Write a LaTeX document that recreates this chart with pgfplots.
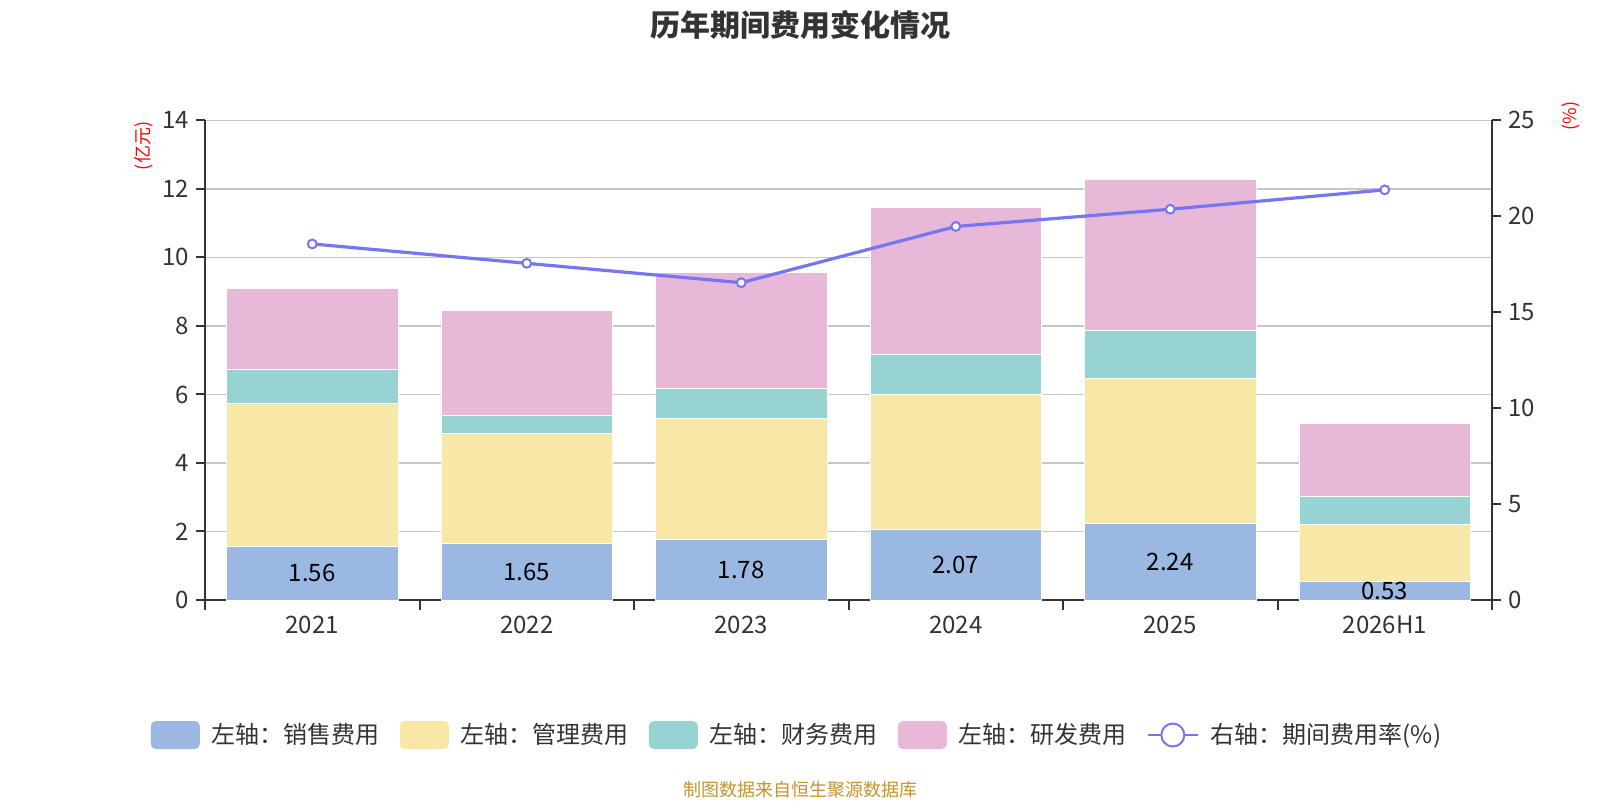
\documentclass[border=0pt]{standalone}
\usepackage{fontspec}
\setmainfont{Noto Sans CJK SC}
\usepackage{pgfplots}
\pgfplotsset{compat=1.18}
\definecolor{sales}{HTML}{9BB8E2}
\definecolor{mgmt}{HTML}{F8E8A8}
\definecolor{fin}{HTML}{98D3D3}
\definecolor{rd}{HTML}{E8B8D8}
\definecolor{linec}{HTML}{7676F4}
\definecolor{txt}{HTML}{333333}
\definecolor{src}{HTML}{C8922B}
\definecolor{gridc}{HTML}{C6C6C6}
\pgfplotsset{
  boxlegend/.style={legend image code/.code={\fill[##1, rounded corners=2.5pt] (0pt,-7pt) rectangle (24.5pt,7pt);}},
  linelegend/.style={legend image code/.code={\draw[##1, line width=1pt, mark size=5.75pt, mark options={fill=white, draw=linec, line width=1pt}, mark repeat=2, mark phase=2] plot coordinates {(0pt,0pt) (12.5pt,0pt) (25pt,0pt)};}},
  common/.style={
    at={(102.5pt,100pt)}, anchor=south west, scale only axis,
    width=643.5pt, height=239.8pt,
    xmin=-0.5, xmax=5.5,
    tick label style={font=\fontsize{12}{14}\selectfont, text=txt},
    /pgf/number format/assume math mode=true,
    axis line style={draw=txt, line width=1pt, -},
    tick style={draw=txt, line width=1pt},
    tick align=outside,
    major tick length=4.5pt,
  }
}
\begin{document}
\begin{tikzpicture}[x=1pt,y=1pt]
\path[use as bounding box] (0,0) rectangle (800,400);
\node[font=\fontsize{15}{18}\selectfont\bfseries, text=txt] at (400,387.5) {历年期间费用变化情况};
\node[font=\fontsize{9}{11}\selectfont, text=src] at (400,5) {制图数据来自恒生聚源数据库};
\node[font=\fontsize{9}{11}\selectfont, text=red, rotate=90] at (71.75,327) {(亿元)};
\node[font=\fontsize{9}{11}\selectfont, text=red, rotate=90] at (785.5,342) {(\%)};

\begin{axis}[common,
  ybar stacked, bar width=0.8,
  ymin=0, ymax=14, ytick={0,2,...,14},
  xtick={0,...,5}, xticklabels={2021,2022,2023,2024,2025,2026H1},
  minor xtick={-0.5,0.5,...,5.5},
  minor tick length=5pt,
  major x tick style={draw=none},
  axis y line*=left, axis x line*=bottom,
  ymajorgrids, major grid style={draw=gridc, line width=0.8pt},
]
\addplot[fill=sales, draw=white, line width=0.4pt] coordinates {(0,1.56) (1,1.65) (2,1.78) (3,2.07) (4,2.24) (5,0.53)};
\addplot[fill=mgmt, draw=white, line width=0.4pt] coordinates {(0,4.19) (1,3.21) (2,3.52) (3,3.92) (4,4.22) (5,1.67)};
\addplot[fill=fin, draw=white, line width=0.4pt] coordinates {(0,0.98) (1,0.53) (2,0.87) (3,1.19) (4,1.40) (5,0.81)};
\addplot[fill=rd, draw=white, line width=0.4pt] coordinates {(0,2.36) (1,3.07) (2,3.39) (3,4.29) (4,4.41) (5,2.14)};
\end{axis}

\begin{axis}[common,
  ymin=0, ymax=14, hide axis,
  nodes near coords, point meta=explicit symbolic,
  nodes near coords style={anchor=center, font=\fontsize{12}{14}\selectfont, text=black},
]
\addplot[draw=none, mark=none, y filter/.expression={y/2}] coordinates {(0,1.56)[1.56] (1,1.65)[1.65] (2,1.78)[1.78] (3,2.07)[2.07] (4,2.24)[2.24] (5,0.53)[0.53]};
\end{axis}

\begin{axis}[common,
  ymin=0, ymax=25, ytick={0,5,...,25},
  axis y line*=right, axis x line=none,
  legend columns=5,
  legend style={at={(0.4592,-0.2815)}, anchor=center, draw=none, fill=none,
    font=\fontsize{12}{14}\selectfont, text=txt,
    nodes={inner sep=0pt},
    /tikz/every odd column/.append style={column sep=6pt},
    /tikz/every even column/.append style={column sep=10pt}},
]
\addlegendimage{boxlegend, fill=sales, draw=none}
\addlegendentry{左轴：销售费用}
\addlegendimage{boxlegend, fill=mgmt, draw=none}
\addlegendentry{左轴：管理费用}
\addlegendimage{boxlegend, fill=fin, draw=none}
\addlegendentry{左轴：财务费用}
\addlegendimage{boxlegend, fill=rd, draw=none}
\addlegendentry{左轴：研发费用}
\addplot[linec, line width=1.6pt, mark=*, mark size=2.2pt,
  mark options={fill=white, draw=linec, line width=1pt}, linelegend
] coordinates {(0,18.56) (1,17.55) (2,16.54) (3,19.47) (4,20.37) (5,21.38)};
\addlegendentry{右轴：期间费用率(\%)}
\end{axis}
\end{tikzpicture}
\end{document}
